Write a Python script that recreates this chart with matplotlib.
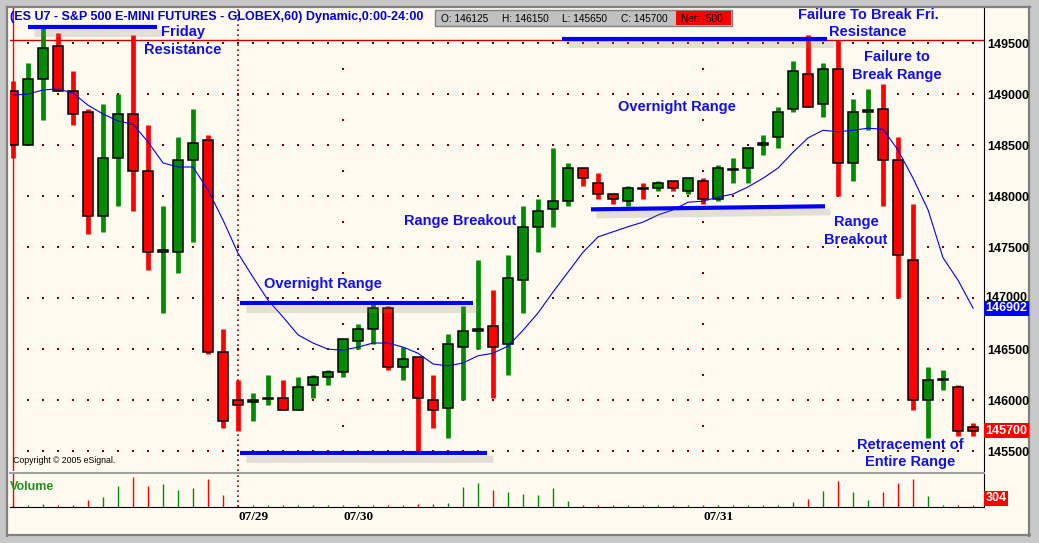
import numpy as np
import matplotlib
matplotlib.use("Agg")
import matplotlib.pyplot as plt
import matplotlib.patheffects as pe
from matplotlib.patches import Rectangle

# hourly ES U7 bars (price x100)
opens = [149025, 148500, 149150, 149475, 149025, 148825, 147800, 148375, 148800, 148250,
         147450, 147450, 148350, 148550, 146475, 146000, 145980, 146010, 146025, 145900,
         146150, 146225, 146275, 146575, 146700, 146900, 146325, 146425, 146000, 145925,
         146525, 146680, 146725, 146550, 147175, 147700, 147875, 147950, 148275, 148125,
         148025, 147950, 148080, 148075, 148150, 148050, 148150, 147975, 148260, 148275,
         148500, 148575, 148850, 149200, 148900, 149250, 148325, 148825, 148850, 148350,
         147375, 146000, 146200, 146125, 145740]
highs = [149125, 149300, 149650, 149600, 149225, 148850, 148900, 149000, 149575, 148700,
         147900, 148575, 148850, 148600, 146700, 146200, 146075, 146250, 146200, 146225,
         146250, 146300, 146600, 146750, 146950, 146925, 146525, 146425, 146250, 146650,
         146925, 147375, 147075, 147425, 147900, 147975, 148475, 148325, 148275, 148225,
         148025, 148100, 148125, 148150, 148150, 148175, 148175, 148300, 148375, 148475,
         148600, 148875, 149325, 149575, 149300, 149525, 148950, 149050, 149100, 148575,
         147925, 146325, 146300, 146150, 145775]
lows = [148375, 148500, 148750, 149025, 148700, 147625, 147650, 147900, 147850, 147275,
        146850, 147250, 147550, 146450, 145725, 145700, 145800, 145950, 145900, 145900,
        146025, 146150, 146225, 146500, 146550, 146300, 146200, 145500, 145725, 145625,
        146000, 146500, 146025, 146250, 146850, 147450, 147700, 147900, 148100, 147975,
        147925, 147900, 147975, 148050, 148050, 148025, 147925, 147950, 148125, 148125,
        148400, 148475, 148825, 148875, 148775, 148000, 148150, 148650, 147900, 147000,
        145900, 145625, 146100, 145650, 145650]
closes = [148500, 149150, 149450, 149025, 148800, 147800, 148375, 148800, 148250, 147450,
          147475, 148350, 148525, 146475, 145800, 145950, 146000, 146025, 145900, 146125,
          146225, 146275, 146600, 146700, 146900, 146325, 146400, 146025, 145900, 146550,
          146675, 146700, 146525, 147200, 147700, 147850, 147950, 148275, 148175, 148025,
          147975, 148075, 148070, 148125, 148075, 148175, 147975, 148275, 148270, 148475,
          148525, 148825, 149225, 148875, 149250, 148325, 148825, 148845, 148350, 147425,
          146000, 146200, 146210, 145700, 145700]
volumes = [300, 350, 500, 350, 350, 1000, 1550, 3150, 4500, 3150,
           3450, 2550, 2850, 4200, 1800, 250, 300, 250, 300, 300,
           250, 300, 300, 250, 350, 350, 350, 450, 450, 650,
           3050, 3700, 2650, 2300, 2000, 1850, 2900, 850, 250, 300,
           250, 250, 250, 250, 250, 300, 300, 250, 250, 300,
           250, 350, 700, 1150, 2500, 4000, 2200, 1000, 2200, 3700,
           4300, 1600, 300, 300, 304]
# moving average as plotted by the platform
ma = [148990, 149000, 149040, 149050, 149010, 148890, 148805, 148735, 148705, 148530,
      148325, 148285, 148285, 148060, 147765, 147440, 147205, 146980, 146815, 146640,
      146560, 146500, 146490, 146520, 146560, 146560, 146520, 146460, 146355, 146335,
      146365, 146435, 146460, 146530, 146685, 146855, 147060, 147255, 147450, 147600,
      147650, 147700, 147745, 147815, 147865, 147940, 147950, 147990, 148020, 148090,
      148175, 148275, 148430, 148570, 148645, 148630, 148645, 148665, 148655, 148450,
      148175, 147865, 147395, 147175, 146902]

date_idx = [15, 22, 46]
date_labels = ["07/29", "07/30", "07/31"]
price_ticks = list(range(145500, 150000, 500))
fri_high = 149530
last_ma = 146902
last_close = 145700
prev_close = 146200
last_vol = 304

GREEN = "#008c00"
RED = "#ff0000"
BLUE = "#0000ff"
CREAM = "#fffaf0"
DOT = "#800000"

W, H = 1039, 543


def px(x, y):
    return x / W, 1 - y / H


fig = plt.figure(figsize=(W / 100, H / 100), dpi=100)
fig.patch.set_facecolor("#c8c8c8")
fig.add_artist(Rectangle(px(8, 535), 1021 / W, 527 / H, transform=fig.transFigure,
                         fc=CREAM, ec="none", zorder=-10))
for (x0, y0), (x1, y1) in [((7, 7), (7, 536)), ((7, 7), (1030, 7)),
                           ((1029, 7), (1029, 536)), ((7, 535), (1030, 535))]:
    a, b = px(x0, y0), px(x1, y1)
    fig.add_artist(plt.Line2D([a[0], b[0]], [a[1], b[1]], color="#808080", lw=1.6,
                              transform=fig.transFigure, zorder=-9))

n = len(opens)
idx = np.arange(n)
x_lo, x_hi = -0.2, 64.73

# price pane
l, b = px(10, 471)
ax = fig.add_axes([l, b, 974 / W, 463 / H])
ax.set_facecolor("none")
ax.set_xlim(x_lo, x_hi)
ax.set_ylim(145306, 149843)

up = np.array(closes) >= np.array(opens)
colors = [GREEN if u else RED for u in up]

# dotted grid
for p in price_ticks:
    ax.scatter(idx[1:], [p] * (n - 1), s=0.6, color=DOT, marker="s", linewidths=0, zorder=1)
for d in date_idx[1:]:
    ax.scatter([d] * 17, np.arange(145500, 149750, 250), s=0.6, color=DOT, marker="s",
               linewidths=0, zorder=1)
ax.axvline(date_idx[0], color=DOT, lw=1.2, ls=(0, (1, 2)), zorder=1)
ax.axvline(0, color=RED, lw=1, zorder=1)
ax.axhline(fri_high, color="#cc0000", lw=1, zorder=1)

ax.vlines(idx, lows, highs, colors=colors, lw=3.4, zorder=3)
body_lo = np.minimum(opens, closes)
body_h = np.maximum(np.abs(np.array(closes) - np.array(opens)), 8)
ax.bar(idx, body_h, bottom=body_lo, width=0.68, color=colors, edgecolor="black",
       linewidth=1.1, zorder=4)

ax.plot(idx, ma, color=BLUE, lw=0.8, zorder=5)

# drawn support / resistance lines
shadow = [pe.SimpleLineShadow(offset=(4, -4), shadow_color="#808080", alpha=0.22, linewidth=5),
          pe.Normal()]
for xs, ys in [([1.0, 9.6], [149657, 149657]),
               ([15.13, 30.67], [146950, 146950]),
               ([15.13, 31.6], [145480, 145480]),
               ([36.6, 54.27], [149540, 149540]),
               ([38.53, 54.13], [147870, 147900])]:
    ax.plot(xs, ys, color=BLUE, lw=3, solid_capstyle="butt", zorder=6, path_effects=shadow)

note_kw = dict(color="#1010f0", fontsize=10.5, fontweight="bold", family="Liberation Sans",
               ha="center", va="center", linespacing=1.3, zorder=7)
notes = [(11.33, 149520, "Friday\nResistance"),
         (20.67, 147140, "Overnight Range"),
         (29.8, 147756, "Range Breakout"),
         (44.27, 148873, "Overnight Range"),
         (57.0, 149690, "Failure To Break Fri.\nResistance"),
         (58.93, 149275, "Failure to\nBreak Range"),
         (56.2, 147658, "Range\nBreakout"),
         (59.8, 145477, "Retracement of\nEntire Range")]
for x, y, s in notes:
    ax.text(x, y, s, clip_on=False, **note_kw)

for s in ["top", "left", "bottom"]:
    ax.spines[s].set_visible(False)
ax.spines["right"].set_color("black")
ax.set_xticks([])
ax.yaxis.tick_right()
ax.set_yticks(price_ticks)
ax.set_yticklabels([str(p) if p != 147000 else "" for p in price_ticks], fontsize=9,
                   fontweight="bold", family="Liberation Sans")
ax.tick_params(axis="y", length=0, pad=2)
# 147000 sits partly under the moving-average flag
ax.text(1.0015, 147000, "147000", transform=ax.get_yaxis_transform(), fontsize=9,
        fontweight="bold", family="Liberation Sans", ha="left", va="center", clip_on=False)

ax.text(0.003, 0.012, "Copyright \u00a9 2005 eSignal.", transform=ax.transAxes, fontsize=6.3,
        family="Liberation Sans", ha="left", va="bottom")

# value flags on the price scale
lbl_kw = dict(color="white", fontsize=9, fontweight="bold", family="Liberation Sans",
              ha="left", va="center", zorder=10, clip_on=False)
ax.text(1.0015, last_ma, str(last_ma), transform=ax.get_yaxis_transform(),
        bbox=dict(boxstyle="square,pad=0.12", fc=BLUE, ec="none"), **lbl_kw)
ax.text(1.0015, last_close, str(last_close), transform=ax.get_yaxis_transform(),
        bbox=dict(boxstyle="square,pad=0.12", fc=RED, ec="none"), **lbl_kw)

# pane separator
a, b2 = px(10, 472.5), px(984, 472.5)
fig.add_artist(plt.Line2D([a[0], b2[0]], [a[1], b2[1]], color="#a0a0a0", lw=1.5,
                          transform=fig.transFigure))

# volume pane
l, b = px(10, 507)
vax = fig.add_axes([l, b, 974 / W, 33 / H])
vax.set_facecolor("none")
vax.set_xlim(x_lo, x_hi)
vax.set_ylim(0, 5000)
vax.vlines(idx, 0, volumes, colors=colors, lw=1.0)
vax.axvline(date_idx[0], color=DOT, lw=1.2, ls=(0, (1, 2)))
vax.axvline(0, color=RED, lw=1)
for s in ["top", "left"]:
    vax.spines[s].set_visible(False)
vax.spines["right"].set_color("black")
vax.spines["bottom"].set_color("black")
vax.set_yticks([])
vax.set_xticks(date_idx)
vax.set_xticklabels(date_labels, fontsize=9.5, fontweight="bold", family="Liberation Serif",
                    ha="left")
vax.tick_params(axis="x", length=0, pad=3)
vax.text(0.0, 0.62, "Volume", transform=vax.transAxes, color="#1a9a1a", fontsize=9,
         fontweight="bold", family="Liberation Sans", ha="left", va="center")
vax.text(1.0015, 0.27, str(last_vol), transform=vax.transAxes,
         bbox=dict(boxstyle="square,pad=0.12", fc=RED, ec="none"), **lbl_kw)

# title and last-bar readout
fig.text(*px(10, 17), "(ES U7 - S&P 500 E-MINI FUTURES - GLOBEX,60) Dynamic,0:00-24:00",
         color="#0000e0", fontsize=9.0, fontweight="bold", family="Liberation Sans",
         ha="left", va="center")
fig.add_artist(Rectangle(px(435, 26), 297 / W, 16 / H, transform=fig.transFigure,
                         fc="#c0c0c0", ec="#808080", lw=1))
fig.add_artist(Rectangle(px(676, 25), 55 / W, 14 / H, transform=fig.transFigure,
                         fc=RED, ec="none"))
o, h, lo_, c = opens[63], highs[63], lows[63], closes[63]
for x, s in [(441, f"O: {o}"), (502, f"H: {h}"), (562, f"L: {lo_}"), (621, f"C: {c}"),
             (681, f"Net: {last_close - prev_close}")]:
    fig.text(*px(x, 18.5), s, fontsize=7.3, family="Liberation Sans", ha="left", va="center")

fig.savefig("out.png", dpi=100, facecolor=fig.get_facecolor())
